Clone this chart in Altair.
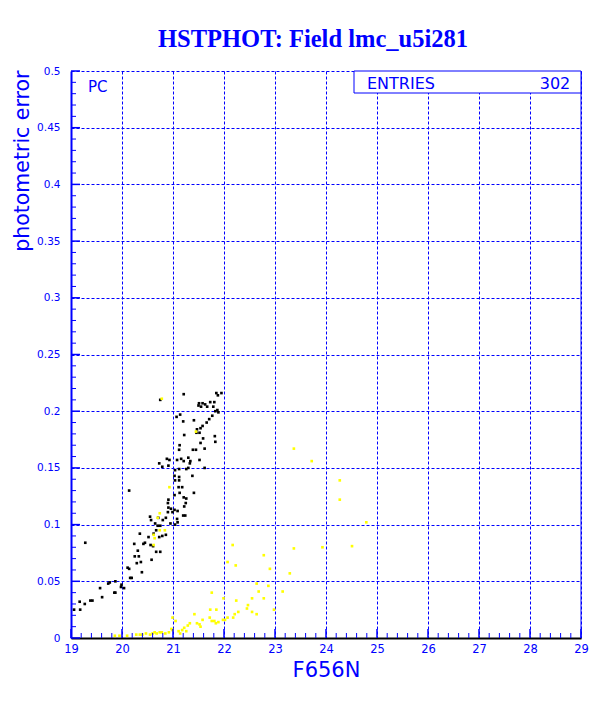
import altair as alt
import pandas as pd

# ---- data ----
black_mag = [21.21, 21.85, 21.88, 21.95, 21.51, 21.58, 21.63, 21.73, 21.81, 21.50, 21.55, 21.67, 21.79,
             21.83, 21.87, 21.89, 21.07, 21.14, 21.20, 21.41, 21.66, 21.71, 21.77, 21.47, 21.54, 21.58,
             21.46, 21.52, 21.22, 21.82, 21.59, 21.54, 21.83, 21.13, 21.12, 21.39, 21.45, 21.62, 20.93,
             20.88, 21.08, 21.16, 21.21, 21.30, 21.34, 21.33, 21.52, 20.73, 20.79, 20.91, 21.04, 21.12,
             21.26, 21.30, 21.62, 21.03, 21.12, 21.04, 21.12, 21.38, 21.11, 21.18, 21.41, 21.13, 21.03,
             21.21, 21.26, 21.25, 21.22, 20.91, 20.90, 20.91, 20.96, 21.03, 21.09, 20.90, 20.99, 21.24,
             21.20, 21.08, 21.09, 21.04, 20.95, 20.71, 20.80, 20.86, 20.55, 20.57, 20.65, 20.70, 20.75,
             20.67, 20.62, 20.73, 20.79, 20.86, 20.52, 20.45, 20.42, 20.24, 20.35, 20.31, 20.25, 20.33,
             20.37, 20.29, 20.58, 20.56, 20.67, 20.75, 20.61, 20.11, 20.14, 20.16, 20.19, 20.39, 20.14,
             19.28, 19.99, 19.98, 20.04, 19.87, 19.76, 19.73, 19.57, 19.85, 19.87, 19.61, 19.38, 19.42,
             19.27, 19.17, 19.18, 19.06, 20.75]
black_err = [0.215, 0.216, 0.214, 0.216, 0.207, 0.207, 0.206, 0.208, 0.208, 0.205, 0.204, 0.204, 0.204,
             0.200, 0.201, 0.199, 0.195, 0.197, 0.191, 0.192, 0.190, 0.193, 0.196, 0.184, 0.185, 0.187,
             0.181, 0.181, 0.179, 0.178, 0.176, 0.172, 0.173, 0.170, 0.166, 0.166, 0.166, 0.167, 0.157,
             0.158, 0.157, 0.158, 0.156, 0.159, 0.156, 0.154, 0.157, 0.154, 0.151, 0.152, 0.148, 0.149,
             0.149, 0.150, 0.150, 0.143, 0.142, 0.139, 0.139, 0.143, 0.133, 0.133, 0.128, 0.128, 0.126,
             0.124, 0.123, 0.119, 0.116, 0.122, 0.119, 0.115, 0.114, 0.113, 0.112, 0.111, 0.111, 0.108,
             0.108, 0.105, 0.102, 0.100, 0.101, 0.106, 0.104, 0.106, 0.107, 0.104, 0.101, 0.099, 0.099,
             0.095, 0.092, 0.089, 0.090, 0.091, 0.089, 0.084, 0.083, 0.083, 0.092, 0.077, 0.072, 0.072,
             0.067, 0.066, 0.069, 0.082, 0.076, 0.076, 0.081, 0.062, 0.061, 0.053, 0.053, 0.058, 0.130,
             0.084, 0.047, 0.045, 0.044, 0.050, 0.049, 0.048, 0.044, 0.040, 0.040, 0.036, 0.033, 0.033,
             0.030, 0.032, 0.025, 0.025, 0.210]

yellow_mag = [19.86, 19.95, 20.10, 20.28, 20.35, 20.40, 20.47, 20.55, 20.60, 20.64, 20.68, 20.74, 20.78,
              20.85, 20.92, 20.97, 20.99, 21.05, 20.99, 21.11, 21.14, 21.18, 21.22, 21.26, 21.29, 21.33,
              21.47, 21.52, 21.54, 21.58, 21.42, 21.72, 21.76, 21.81, 21.84, 21.89, 21.73, 21.85, 21.76,
              21.99, 21.98, 22.02, 22.07, 22.18, 22.21, 22.28, 22.24, 22.47, 22.45, 22.55, 22.64, 22.55,
              22.78, 22.68, 22.64, 22.87, 23.15, 22.98, 23.29, 22.90, 22.78, 22.23, 22.07, 22.17, 23.37,
              23.93, 24.51, 24.79, 24.27, 24.27, 23.72, 23.37, 20.78, 21.45, 20.93, 20.74, 20.70, 20.84,
              20.62, 20.64, 20.74, 20.62]
yellow_err = [0.002, 0.002, 0.002, 0.003, 0.003, 0.003, 0.004, 0.003, 0.004, 0.005, 0.004, 0.005, 0.005,
              0.004, 0.005, 0.008, 0.007, 0.015, 0.018, 0.006, 0.004, 0.007, 0.009, 0.006, 0.011, 0.013,
              0.013, 0.012, 0.010, 0.016, 0.021, 0.018, 0.015, 0.015, 0.013, 0.014, 0.025, 0.025, 0.040,
              0.035, 0.016, 0.016, 0.018, 0.018, 0.021, 0.023, 0.033, 0.029, 0.026, 0.023, 0.021, 0.035,
              0.035, 0.041, 0.048, 0.046, 0.041, 0.025, 0.057, 0.061, 0.073, 0.064, 0.067, 0.082, 0.079,
              0.080, 0.081, 0.102, 0.122, 0.139, 0.156, 0.167, 0.211, 0.182, 0.133, 0.110, 0.106, 0.095,
              0.091, 0.088, 0.095, 0.082]

x_major = [19, 20, 21, 22, 23, 24, 25, 26, 27, 28, 29]
y_major = [0, 0.05, 0.1, 0.15, 0.2, 0.25, 0.3, 0.35, 0.4, 0.45, 0.5]
x_minor = [round(19 + 0.2 * i, 2) for i in range(51)]
y_minor = [round(0.01 * i, 2) for i in range(51)]

title_text = "HSTPHOT: Field lmc_u5i281"
x_title = "F656N"
y_title = "photometric error"
stat_label = "ENTRIES"
stat_value = "302"
corner_label = "PC"

BLUE = "#0000ff"
W, H = 510, 567

df = pd.DataFrame({
    "mag": black_mag + yellow_mag,
    "err": black_err + yellow_err,
    "grp": ["black"] * len(black_mag) + ["yellow"] * len(yellow_mag),
})

xs = alt.Scale(domain=[19, 29], nice=False, zero=False)
ys = alt.Scale(domain=[0, 0.5], nice=False, zero=False)

x_axis = alt.Axis(values=x_major, grid=True, gridColor=BLUE, gridDash=[3, 2], gridWidth=1,
                  ticks=False, domainColor="#000000", domainWidth=2,
                  labelColor=BLUE, labelFont="DejaVu Sans", labelFontSize=11.5, labelPadding=5,
                  labelFlush=False, format="d",
                  title=x_title, titleColor=BLUE, titleFont="DejaVu Sans", titleFontSize=21,
                  titleFontWeight="normal", titleBaseline="alphabetic", titleY=38)
y_axis = alt.Axis(values=y_major, grid=True, gridColor=BLUE, gridDash=[3, 2], gridWidth=1,
                  ticks=False, domainColor=BLUE, domainWidth=2,
                  labelColor=BLUE, labelFont="DejaVu Sans", labelFontSize=10.5, labelPadding=11,
                  labelFlush=False, format="~g",
                  title=y_title, titleColor=BLUE, titleFont="DejaVu Sans", titleFontSize=20.5,
                  titleFontWeight="normal", titleAngle=270, titleAlign="right",
                  titleBaseline="middle", titleX=-49, titleY=-1)

points = alt.Chart(df).mark_square(size=7, opacity=1).encode(
    x=alt.X("mag:Q", scale=xs, axis=x_axis),
    y=alt.Y("err:Q", scale=ys, axis=y_axis),
    color=alt.Color("grp:N", scale=alt.Scale(domain=["black", "yellow"], range=["#000000", "#ffff00"]),
                    legend=None),
)

# inward tick marks
xt = pd.DataFrame({"v": x_minor, "major": [abs(v - round(v)) < 1e-6 for v in x_minor]})
yt = pd.DataFrame({"v": y_minor, "major": [abs(v * 20 - round(v * 20)) < 1e-6 for v in y_minor]})

x_ticks_minor = alt.Chart(xt[~xt["major"]]).mark_rule(color=BLUE, strokeWidth=1).encode(
    x=alt.X("v:Q", scale=xs), y=alt.value(H), y2=alt.value(H - 5))
x_ticks_major = alt.Chart(xt[xt["major"]]).mark_rule(color=BLUE, strokeWidth=1.5).encode(
    x=alt.X("v:Q", scale=xs), y=alt.value(H), y2=alt.value(H - 9))
y_ticks_minor = alt.Chart(yt[~yt["major"]]).mark_rule(color=BLUE, strokeWidth=1).encode(
    y=alt.Y("v:Q", scale=ys), x=alt.value(0), x2=alt.value(5))
y_ticks_major = alt.Chart(yt[yt["major"]]).mark_rule(color=BLUE, strokeWidth=1.5).encode(
    y=alt.Y("v:Q", scale=ys), x=alt.value(0), x2=alt.value(9))

right_border = alt.Chart(pd.DataFrame({"a": [0]})).mark_rule(color=BLUE, strokeWidth=1).encode(
    x=alt.value(W), y=alt.value(0), y2=alt.value(H))

stat_box = alt.Chart(pd.DataFrame({"a": [0]})).mark_rect(fill="white", stroke=BLUE, strokeWidth=1).encode(
    x=alt.value(283), x2=alt.value(W), y=alt.value(0), y2=alt.value(22))
stat_l = alt.Chart(pd.DataFrame({"t": [stat_label]})).mark_text(
    color=BLUE, font="DejaVu Sans", fontSize=16, align="left", baseline="alphabetic").encode(
    x=alt.value(296), y=alt.value(18), text="t:N")
stat_v = alt.Chart(pd.DataFrame({"t": [stat_value]})).mark_text(
    color=BLUE, font="DejaVu Sans", fontSize=16, align="center", baseline="alphabetic").encode(
    x=alt.value(484), y=alt.value(18), text="t:N")
corner = alt.Chart(pd.DataFrame({"t": [corner_label]})).mark_text(
    color=BLUE, font="DejaVu Sans", fontSize=15, align="left", baseline="alphabetic").encode(
    x=alt.value(17), y=alt.value(21), text="t:N")

chart = alt.layer(
    points, x_ticks_minor, x_ticks_major, y_ticks_minor, y_ticks_major, right_border,
    stat_box, stat_l, stat_v, corner,
).properties(
    width=W, height=H,
    title=alt.TitleParams(title_text, font="Liberation Serif", fontSize=24.5, fontWeight="bold",
                          color=BLUE, anchor="middle", dx=-13, offset=13.5),
    autosize=alt.AutoSizeParams(type="none"),
    padding={"left": 63, "top": 63, "right": 23, "bottom": 63},
    background="white",
).configure_view(stroke=None)

chart.save("out.html", embed_options={"renderer": "svg", "actions": False})
